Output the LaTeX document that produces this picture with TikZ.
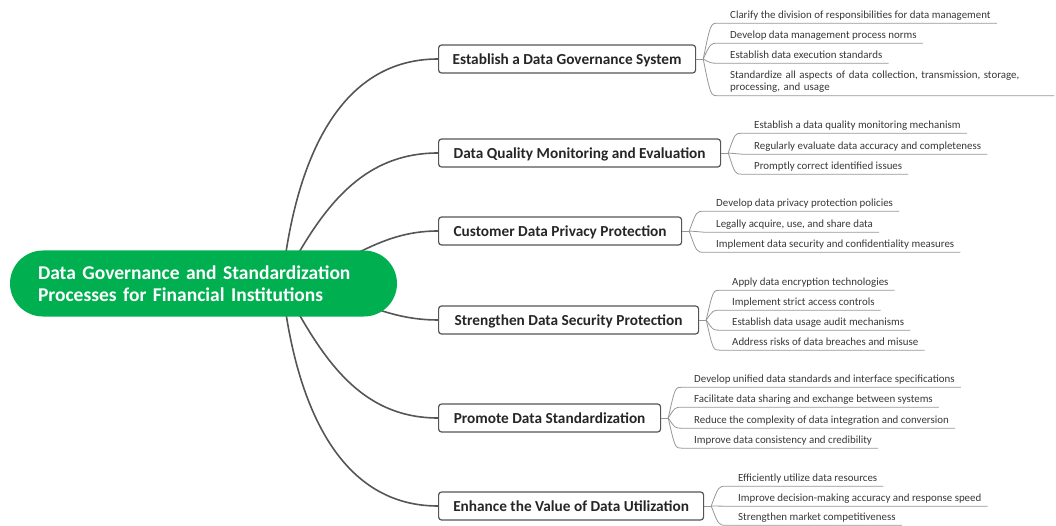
\documentclass[tikz,border=0pt]{standalone}
\usepackage{fontspec}
\setmainfont{Carlito}
\usetikzlibrary{calc,backgrounds}
\definecolor{rootgreen}{RGB}{0,176,80}
\definecolor{linkgray}{RGB}{85,85,85}
\definecolor{leafgray}{RGB}{150,150,150}
\definecolor{textgray}{RGB}{55,55,55}

\begin{document}
\begin{tikzpicture}[x=1pt, y=-1pt,
    root/.style={fill=rootgreen, text=white, rounded corners=33pt, minimum height=66pt,
        text width=331pt, inner xsep=28pt, align=left,
        font=\fontsize{19.5}{22}\selectfont\bfseries},
    topic/.style={draw=linkgray, line width=1.2pt, rounded corners=3pt, fill=white,
        minimum height=28pt, anchor=west, text=black!85, text depth=0pt,
        font=\fontsize{15.3}{17}\selectfont\bfseries},
    leaf/.style={anchor=west, inner xsep=0pt, inner ysep=0pt, minimum height=16pt,
        text=textgray, text depth=0pt, font=\fontsize{10.9}{12}\selectfont},
    branch/.style={draw=linkgray, line width=1.6pt},
    twig/.style={draw=leafgray, line width=0.8pt},
    fanto/.style={to path={let \p1=(\tikztostart), \p2=(\tikztotarget) in
        .. controls ({0.5*\x1+0.5*\x2},\y2) .. (\tikztotarget)}}]
    \useasboundingbox (0,0) rectangle (1056,526);

    \node[root] (root) at (203.5,283.5) {Data Governance and Standardization\\Processes for Financial Institutions};
    \coordinate (hub) at (282,283);

    \node[topic, minimum width=257pt] (t1) at (438,59)  {Establish a Data Governance System};
    \node[topic, minimum width=282pt] (t2) at (438,153) {Data Quality Monitoring and Evaluation};
    \node[topic, minimum width=243pt] (t3) at (438,231) {Customer Data Privacy Protection};
    \node[topic, minimum width=260pt] (t4) at (438,320) {Strengthen Data Security Protection};
    \node[topic, minimum width=222pt] (t5) at (438,418) {Promote Data Standardization};
    \node[topic, minimum width=265pt] (t6) at (438,506) {Enhance the Value of Data Utilization};

    \begin{scope}[on background layer]
        \draw[branch] (hub) to[out=84,in=180] (t1.west);
        \draw[branch] (hub) to[out=62,in=180] (t2.west);
        \draw[branch] (hub) to[out=12,in=180] (t3.west);
        \draw[branch] (hub) to[out=-4,in=180] (t4.west);
        \draw[branch] (hub) to[out=-62,in=180] (t5.west);
        \draw[branch] (hub) to[out=-84,in=180] (t6.west);
    \end{scope}

    \node[leaf] (l11) at (730,15) {Clarify the division of responsibilities for data management};
    \node[leaf] (l12) at (730,35) {Develop data management process norms};
    \node[leaf] (l13) at (730,55) {Establish data execution standards};
    \node[leaf, text depth=, minimum height=28pt, text width=318pt, align=left] (l14) at (730,81.5)
        {Standardize all aspects of data collection, transmission, storage,\\processing, and usage};

    \node[leaf] (l21) at (754,125) {Establish a data quality monitoring mechanism};
    \node[leaf] (l22) at (754,146) {Regularly evaluate data accuracy and completeness};
    \node[leaf] (l23) at (754,166) {Promptly correct identified issues};

    \node[leaf] (l31) at (716,203) {Develop data privacy protection policies};
    \node[leaf] (l32) at (716,224) {Legally acquire, use, and share data};
    \node[leaf] (l33) at (716,244) {Implement data security and confidentiality measures};

    \node[leaf] (l41) at (732,282) {Apply data encryption technologies};
    \node[leaf] (l42) at (732,302) {Implement strict access controls};
    \node[leaf] (l43) at (732,322) {Establish data usage audit mechanisms};
    \node[leaf] (l44) at (732,342) {Address risks of data breaches and misuse};

    \node[leaf] (l51) at (694,379) {Develop unified data standards and interface specifications};
    \node[leaf] (l52) at (694,399) {Facilitate data sharing and exchange between systems};
    \node[leaf] (l53) at (694,420) {Reduce the complexity of data integration and conversion};
    \node[leaf] (l54) at (694,440) {Improve data consistency and credibility};

    \node[leaf] (l61) at (738,478) {Efficiently utilize data resources};
    \node[leaf] (l62) at (738,498) {Improve decision-making accuracy and response speed};
    \node[leaf] (l63) at (738,517) {Strengthen market competitiveness};

    \foreach \t/\leaves in {t1/{l11,l12,l13,l14}, t2/{l21,l22,l23}, t3/{l31,l32,l33},
                            t4/{l41,l42,l43,l44}, t5/{l51,l52,l53,l54}, t6/{l61,l62,l63}} {
        \coordinate (f-\t) at ([xshift=7pt]\t.east);
        \draw[twig] (\t.east) -- (f-\t);
        \foreach \n in \leaves
            \draw[twig] (f-\t) to[fanto] ([xshift=-12pt]\n.south west) -- ([xshift=6pt]\n.south east);
    }
\end{tikzpicture}
\end{document}
